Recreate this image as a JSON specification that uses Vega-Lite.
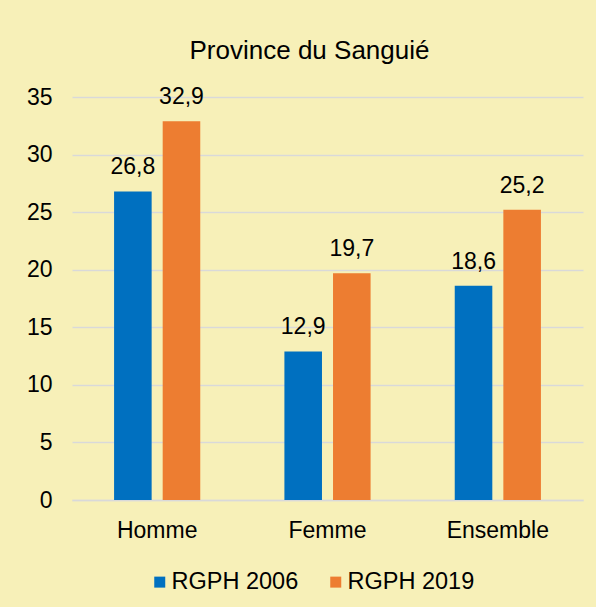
{
  "$schema": "https://vega.github.io/schema/vega-lite/v6.json",
  "autosize": "none",
  "width": 511,
  "height": 403,
  "padding": {"left": 72, "top": 97, "right": 13, "bottom": 107},
  "background": "#F7F0B8",
  "title": {
    "text": "Province du Sanguié",
    "fontSize": 26,
    "font": "Liberation Sans",
    "fontWeight": "normal",
    "color": "#000000",
    "anchor": "middle",
    "frame": "group",
    "dx": -18,
    "offset": 22
  },
  "data": {
    "values": [
      {"cat": "Homme", "serie": "RGPH 2006", "val": 26.8},
      {"cat": "Homme", "serie": "RGPH 2019", "val": 32.9},
      {"cat": "Femme", "serie": "RGPH 2006", "val": 12.9},
      {"cat": "Femme", "serie": "RGPH 2019", "val": 19.7},
      {"cat": "Ensemble", "serie": "RGPH 2006", "val": 18.6},
      {"cat": "Ensemble", "serie": "RGPH 2019", "val": 25.2}
    ]
  },
  "encoding": {
    "x": {
      "field": "cat",
      "type": "nominal",
      "sort": ["Homme", "Femme", "Ensemble"],
      "scale": {"paddingInner": 0.494, "paddingOuter": 0.247},
      "axis": {
        "title": null,
        "labelAngle": 0,
        "ticks": false,
        "domain": true,
        "domainColor": "#D9D9D9",
        "domainWidth": 1.5,
        "labelFontSize": 23,
        "labelFont": "Liberation Sans",
        "labelColor": "#000000",
        "labelPadding": 19
      }
    },
    "xOffset": {
      "field": "serie",
      "type": "nominal",
      "scale": {"paddingInner": 0.227, "paddingOuter": 0}
    },
    "y": {
      "field": "val",
      "type": "quantitative",
      "scale": {"domain": [0, 35], "nice": false},
      "axis": {
        "title": null,
        "values": [0, 5, 10, 15, 20, 25, 30, 35],
        "ticks": false,
        "domain": false,
        "grid": true,
        "gridColor": "#D9D9D9",
        "gridWidth": 1.5,
        "labelFontSize": 23,
        "labelFont": "Liberation Sans",
        "labelColor": "#000000",
        "labelPadding": 20
      }
    }
  },
  "layer": [
    {
      "mark": {"type": "bar"},
      "encoding": {
        "color": {
          "field": "serie",
          "type": "nominal",
          "scale": {"domain": ["RGPH 2006", "RGPH 2019"], "range": ["#0070C0", "#ED7D31"]},
          "legend": {
            "title": null,
            "orient": "none",
            "direction": "horizontal",
            "legendX": 76,
            "legendY": 473,
            "symbolType": "square",
            "symbolSize": 121,
            "symbolStrokeWidth": 0,
            "labelFontSize": 23.5,
            "labelFont": "Liberation Sans",
            "labelColor": "#000000",
            "labelOffset": 0,
            "columnPadding": 25,
            "padding": 0
          }
        }
      }
    },
    {
      "mark": {
        "type": "text",
        "baseline": "alphabetic",
        "dy": -17,
        "fontSize": 23,
        "font": "Liberation Sans",
        "color": "#000000"
      },
      "encoding": {
        "text": {"field": "val", "type": "quantitative", "format": ".1f"}
      }
    }
  ],
  "config": {
    "view": {"stroke": null},
    "locale": {
      "number": {"decimal": ",", "thousands": " ", "grouping": [3], "currency": ["", " €"]}
    }
  }
}
